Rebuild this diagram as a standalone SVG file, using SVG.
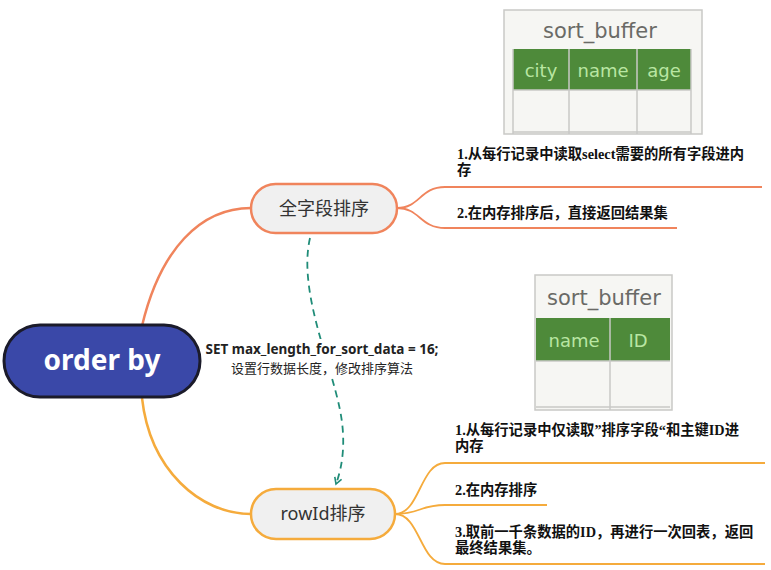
<svg xmlns="http://www.w3.org/2000/svg" width="771" height="570" viewBox="0 0 771 570">
<defs>
<style>
.leaf{font-family:"Liberation Serif","Noto Sans CJK SC",serif;font-size:14.3px;font-weight:bold;fill:#111}
.hand{font-family:"DejaVu Sans","Liberation Sans",sans-serif}
.grid{fill:none;stroke:#c9c9c6;stroke-width:1.5}
.hdr{fill:#4e8a3a}
.col{font-size:18px;fill:#b9e6a2;text-anchor:middle}
.title{font-size:21px;fill:#6a6a66;text-anchor:middle}
.orange{fill:none;stroke:#f0845c;stroke-width:2.5}
.yellow{fill:none;stroke:#f5ab3c;stroke-width:2.5}
.thin-o{fill:none;stroke:#f0845c;stroke-width:1.8}
.thin-y{fill:none;stroke:#f5ab3c;stroke-width:1.8}
</style>
<marker id="arr" viewBox="0 0 10 10" refX="8" refY="5" markerWidth="9" markerHeight="9" markerUnits="userSpaceOnUse" orient="auto">
<path d="M1,1 L8,5 L1,9" fill="none" stroke="#1f8c78" stroke-width="1.8"/>
</marker>
</defs>
<rect width="771" height="570" fill="#fff"/>

<g id="table1">
<rect x="504" y="10" width="198" height="124" fill="#f6f6f3"/>
<rect x="504" y="10" width="198" height="124" class="grid"/>
<text x="600" y="38" class="hand title">sort_buffer</text>
<rect x="513" y="49" width="178" height="41" class="hdr"/>
<line x1="569" y1="49" x2="569" y2="134" class="grid"/>
<line x1="637" y1="49" x2="637" y2="134" class="grid"/>
<line x1="513" y1="49" x2="513" y2="134" class="grid"/>
<line x1="691" y1="49" x2="691" y2="134" class="grid"/>
<line x1="513" y1="90" x2="691" y2="90" class="grid"/>
<line x1="513" y1="132" x2="691" y2="132" class="grid"/>
<text x="541" y="77" class="hand col">city</text>
<text x="603" y="77" class="hand col">name</text>
<text x="664" y="77" class="hand col">age</text>
</g>

<g id="table2">
<rect x="535" y="275" width="137" height="135" fill="#f6f6f3"/>
<rect x="535" y="275" width="137" height="135" class="grid"/>
<text x="604" y="305" class="hand title">sort_buffer</text>
<rect x="536" y="318" width="134" height="43" class="hdr"/>
<line x1="610" y1="318" x2="610" y2="410" class="grid"/>
<line x1="536" y1="361" x2="670" y2="361" class="grid"/>
<line x1="536" y1="407" x2="670" y2="407" class="grid"/>
<text x="574" y="347" class="hand col">name</text>
<text x="638" y="347" class="hand col">ID</text>
</g>

<g id="connectors">
<path class="orange" d="M142,326 C160,250 200,208 251,208"/>
<path class="yellow" d="M142,398 C150,470 200,514 251,514"/>
<path class="thin-o" d="M397,208 C420,208 420,187 445,187 L762,187"/>
<path class="thin-o" d="M397,208 C420,208 420,228 445,228 L677,228"/>
<path class="thin-y" d="M395,514 C420,514 420,463 445,463 L765,463"/>
<path class="thin-y" d="M395,514 C420,514 420,505 445,505 L547,505"/>
<path class="thin-y" d="M395,514 C420,514 420,564 445,564 L765,564"/>
<path d="M310,238 C298,290 330,360 340,410 C346,440 343,465 336,484" fill="none" stroke="#1f8c78" stroke-width="1.8" stroke-dasharray="7,5" marker-end="url(#arr)"/>
<rect x="203" y="339" width="240" height="38" fill="#fff"/>
<text x="322" y="354" text-anchor="middle" font-family="'Noto Sans','Noto Sans CJK SC',sans-serif" font-size="13.5" font-weight="bold" fill="#222">SET max_length_for_sort_data = 16;</text>
<text x="322" y="373" text-anchor="middle" font-family="'Noto Sans CJK SC',sans-serif" font-size="13" fill="#222">设置行数据长度，修改排序算法</text>
</g>

<g id="root">
<rect x="4" y="325" width="196" height="72" rx="36" fill="#3a48a8" stroke="#1b1b2a" stroke-width="3"/>
<text x="102" y="370" text-anchor="middle" font-family="'Noto Sans','Liberation Sans',sans-serif" font-size="28" font-weight="bold" fill="#fff">order by</text>
</g>

<g id="node-full">
<rect x="251" y="184" width="146" height="49" rx="24.5" fill="#f0f0f0" stroke="#f0845c" stroke-width="2.5"/>
<text x="324" y="215" text-anchor="middle" font-family="'Noto Sans CJK SC',sans-serif" font-size="18" fill="#333">全字段排序</text>
</g>

<g id="node-rowid">
<rect x="251" y="489" width="144" height="50" rx="25" fill="#f0f0f0" stroke="#f5ab3c" stroke-width="2.5"/>
<text x="323" y="520" text-anchor="middle" font-family="'Noto Sans','Noto Sans CJK SC',sans-serif" font-size="18" fill="#333">rowId排序</text>
</g>

<g id="leaf-full-1">
<text class="leaf" x="457" y="159">1.从每行记录中读取select需要的所有字段进内</text>
<text class="leaf" x="457" y="175">存</text>
</g>
<g id="leaf-full-2">
<text class="leaf" x="457" y="218">2.在内存排序后，直接返回结果集</text>
</g>
<g id="leaf-row-1">
<text class="leaf" x="455" y="435">1.从每行记录中仅读取”排序字段“和主键ID进</text>
<text class="leaf" x="455" y="451">内存</text>
</g>
<g id="leaf-row-2">
<text class="leaf" x="455" y="495">2.在内存排序</text>
</g>
<g id="leaf-row-3">
<text class="leaf" x="455" y="537">3.取前一千条数据的ID，再进行一次回表，返回</text>
<text class="leaf" x="455" y="553">最终结果集。</text>
</g>
</svg>
